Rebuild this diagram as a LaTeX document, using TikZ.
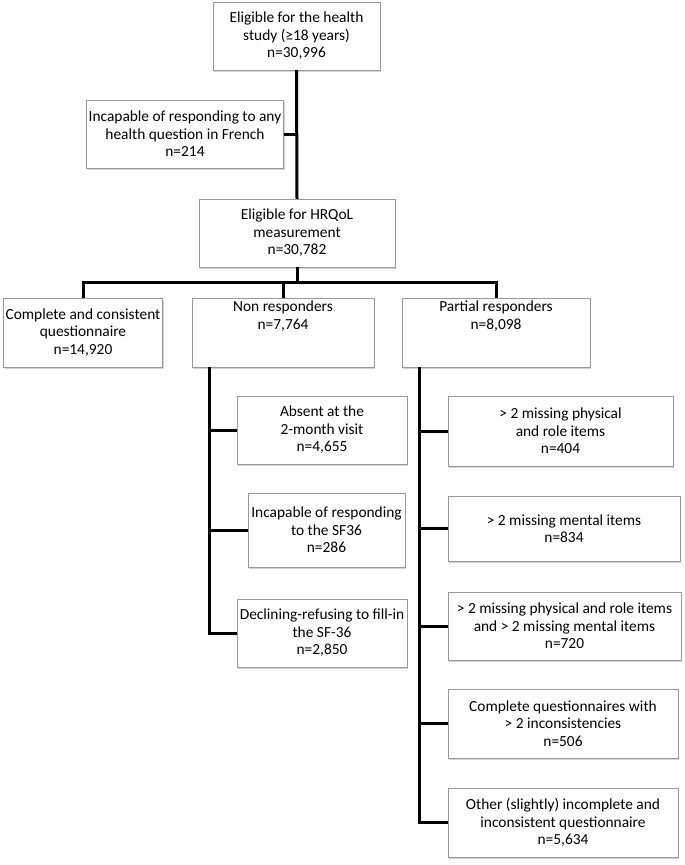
\documentclass[tikz,border=0pt]{standalone}
\usepackage{fontspec}
\setmainfont{Carlito}
\usetikzlibrary{shadows}

\begin{document}
\begin{tikzpicture}[x=1pt,y=-1pt,
every node/.style={font=\fontsize{15.4}{17.5}\selectfont,align=center},
box/.style={draw=black!40,fill=white,inner sep=2pt,minimum height=68pt,
  drop shadow={shadow xshift=1.2pt,shadow yshift=-1.5pt,opacity=0.35}},
link/.style={line width=3pt}]

\useasboundingbox (0,0) rectangle (685,865);

% main column
\node[box,minimum width=167pt] (top) at (296.5,36) {Eligible for the health\\study (≥18 years)\\n=30,996};
\node[box,minimum width=194pt] (french) at (185,134) {Incapable of responding to any\\health question in French\\n=214};
\node[box,minimum width=196pt] (hrq) at (297,233) {Eligible for HRQoL\\measurement\\n=30,782};

\coordinate (bar) at (0,282);

\node[box,minimum width=158pt,minimum height=69pt] (comp) at (83,332.5) {Complete and consistent\\questionnaire\\n=14,920};
\node[box,minimum width=182pt,minimum height=69pt] (non) at (283,332.5) {Non responders\\n=7,764\\[17.5pt]};
\node[box,minimum width=188pt,minimum height=69pt] (part) at (496,332.5) {Partial responders\\n=8,098\\[17.5pt]};

% non responders
\node[box,minimum width=170pt] (absent) at (322,430) {Absent at the\\2-month visit\\n=4,655};
\node[box,minimum width=157pt,minimum height=74pt] (sf) at (326.5,530) {Incapable of responding\\to the SF36\\n=286};
\node[box,minimum width=170pt] (decl) at (322,633) {Declining-refusing to fill-in\\the SF-36\\n=2,850};

% partial responders
\node[box,minimum width=225pt,minimum height=70pt] (phys) at (560.5,431) {> 2 missing physical\\and role items\\n=404};
\node[box,minimum width=232pt,minimum height=65pt] (ment) at (564,528.5) {> 2 missing mental items\\n=834};
\node[box,minimum width=233pt] (both) at (564.5,626) {> 2 missing physical and role items\\and > 2 missing mental items\\n=720};
\node[box,minimum width=230pt,minimum height=69pt] (incons) at (563,723.5) {Complete questionnaires with\\> 2 inconsistencies\\n=506};
\node[box,minimum width=230pt,minimum height=69pt] (other) at (563,822.5) {Other (slightly) incomplete and\\inconsistent questionnaire\\n=5,634};

\coordinate (nspine) at ([xshift=18pt]non.south west);
\coordinate (pspine) at ([xshift=18pt]part.south west);

\draw[link] (top.south) -- (hrq.north);
\draw[link] (french.east) -- (french.east -| top.south);
\draw[link] (hrq.south) -- (hrq.south |- bar);
\draw[link] (comp.north) -- (comp.north |- bar) -- (part.north |- bar) -- (part.north);
\draw[link] (non.north) -- (non.north |- bar);

\draw[link] (nspine) -- (nspine |- decl.west) -- (decl.west);
\draw[link] (nspine |- absent.west) -- (absent.west);
\draw[link] (nspine |- sf.west) -- (sf.west);

\draw[link] (pspine) -- (pspine |- other.west) -- (other.west);
\foreach \n in {phys,ment,both,incons}
  \draw[link] (pspine |- \n.west) -- (\n.west);

\end{tikzpicture}
\end{document}
